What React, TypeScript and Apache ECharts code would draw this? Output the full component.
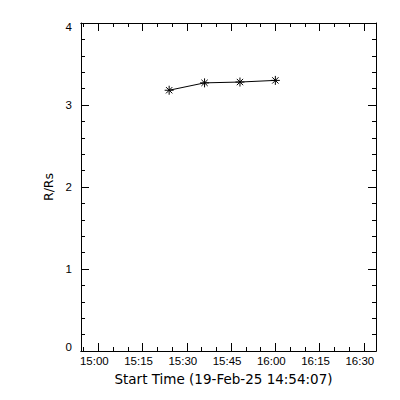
import React, { useEffect, useRef } from "react";
import * as echarts from "echarts";

// Data
const pointTimes = ["15:24", "15:36", "15:48", "16:00"];
const radii = [3.18, 3.27, 3.28, 3.3];
const xMajorTickLabels = ["15:00", "15:15", "15:30", "15:45", "16:00", "16:15", "16:30"];
const xMinorTickTimes = [
  "14:55", "15:00", "15:05", "15:10", "15:15", "15:20", "15:25", "15:30", "15:35", "15:40",
  "15:45", "15:50", "15:55", "16:00", "16:05", "16:10", "16:15", "16:20", "16:25", "16:30",
];
const startTime = "14:54:07";
const xTitle = "Start Time (19-Feb-25 14:54:07)";
const yTitle = "R/Rs";

// minutes relative to 15:00
const toMin = (t: string) => {
  const p = t.split(":").map(Number);
  return p[0] * 60 + p[1] + (p[2] || 0) / 60 - 15 * 60;
};
const fmt = (v: number) => {
  const total = Math.round(15 * 60 + v);
  const h = Math.floor(total / 60);
  const m = total % 60;
  return `${h}:${m < 10 ? "0" + m : m}`;
};

const X_MIN = toMin(startTime);
const X_MAX = X_MIN + 100;

const asterisk = "path://M5,0L5,10M0,5L10,5M1.5,1.5L8.5,8.5M8.5,1.5L1.5,8.5";

export default function App() {
  const ref = useRef<HTMLDivElement>(null);
  useEffect(() => {
    if (!ref.current) return;
    const chart = echarts.init(ref.current, null, { renderer: "svg" });
    const majorVals = xMajorTickLabels.map(toMin);
    const minorVals = xMinorTickTimes.map(toMin);
    const tickFont = { fontFamily: "Liberation Sans", fontSize: 11.5, color: "#000" };
    const baseX = (pos: "top" | "bottom", vals: number[], len: number, labels: boolean, name?: string) => ({
      type: "value",
      position: pos,
      min: X_MIN,
      max: X_MAX,
      name: name || "",
      nameLocation: "middle",
      nameGap: 23,
      nameTextStyle: {
        fontFamily: "DejaVu Sans",
        fontSize: 13.5,
        color: "#000",
        verticalAlign: "middle",
        padding: [0, 10, 0, 0],
      },
      axisLine: { show: true, onZero: false, lineStyle: { color: "#000", width: 1 } },
      axisTick: { show: true, inside: true, length: len, customValues: vals, lineStyle: { color: "#000" } },
      axisLabel: {
        show: labels,
        customValues: majorVals,
        formatter: (v: number) => fmt(v),
        margin: 4,
        padding: [0, 8, 0, 0],
        ...tickFont,
      },
      splitLine: { show: false },
    });
    const baseY = (pos: "left" | "right", labels: boolean, name?: string) => ({
      type: "value",
      position: pos,
      min: 0,
      max: 4,
      interval: 1,
      name: name || "",
      nameLocation: "middle",
      nameGap: 31.5,
      nameTextStyle: { fontFamily: "DejaVu Sans", fontSize: 12.5, color: "#000", verticalAlign: "middle" },
      axisLine: { show: true, onZero: false, lineStyle: { color: "#000", width: 1 } },
      axisTick: { show: true, inside: true, length: 8, lineStyle: { color: "#000" } },
      minorTick: { show: true, splitNumber: 5, length: 4, lineStyle: { color: "#000" } },
      axisLabel: {
        show: labels,
        margin: 9,
        ...tickFont,
        formatter: (v: number) => (v === 0 ? "{lo|0}" : v === 4 ? "{hi|4}" : String(v)),
        rich: {
          lo: { padding: [0, 0, 9, 0], ...tickFont },
          hi: { padding: [8, 0, 0, 0], ...tickFont },
        },
      },
      splitLine: { show: false },
      minorSplitLine: { show: false },
    });
    chart.setOption({
      animation: false,
      backgroundColor: "#fff",
      grid: { left: 81, right: 24, top: 23, bottom: 49, containLabel: false },
      xAxis: [
        baseX("bottom", majorVals, 8, true, xTitle),
        baseX("bottom", minorVals, 4, false),
        baseX("top", majorVals, 8, false),
        baseX("top", minorVals, 4, false),
      ],
      yAxis: [baseY("left", true, yTitle), baseY("right", false)],
      series: [
        {
          type: "line",
          xAxisIndex: 0,
          yAxisIndex: 0,
          data: pointTimes.map((t, i) => [toMin(t), radii[i]]),
          symbol: asterisk,
          symbolSize: 9,
          showSymbol: true,
          lineStyle: { color: "#000", width: 1 },
          itemStyle: { color: "#000", borderColor: "#000", borderWidth: 1 },
        },
      ],
    });
    return () => chart.dispose();
  }, []);
  return (
    <div
      ref={ref}
      style={{ position: "fixed", left: 0, top: 0, width: 400, height: 400, background: "#fff" }}
    />
  );
}
